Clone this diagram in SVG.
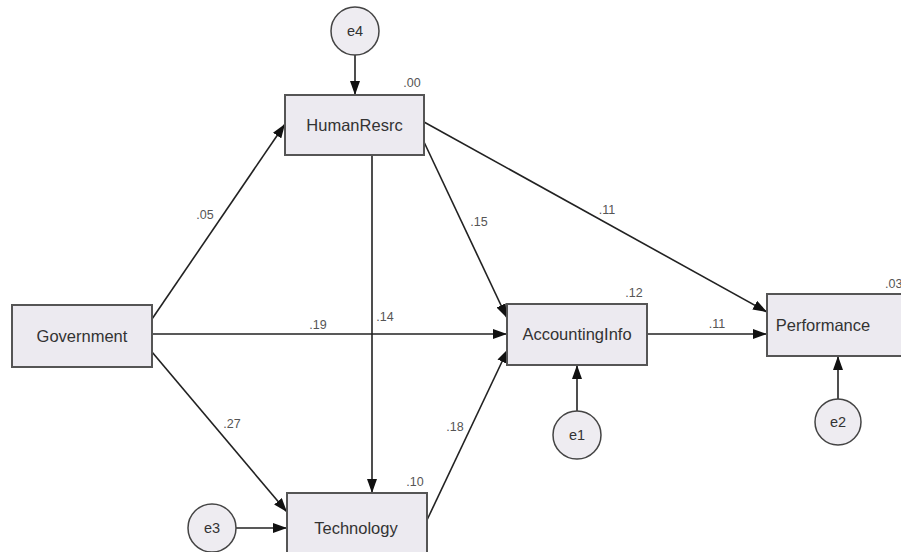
<svg xmlns="http://www.w3.org/2000/svg" width="901" height="552" viewBox="0 0 901 552">
<defs>
<marker id="ah" markerWidth="14" markerHeight="10" refX="14" refY="5" orient="auto" markerUnits="userSpaceOnUse">
<path d="M0,0 L14,5 L0,10 Z" fill="#111"/>
</marker>
<style>
.box{fill:#ECEAF0;stroke:#555;stroke-width:2}
.err{fill:#EEECF1;stroke:#444;stroke-width:1.5}
.lbl{font-family:"Liberation Sans",Arial,sans-serif;font-size:16.5px;fill:#333;text-anchor:middle}
.elbl{font-family:"Liberation Sans",Arial,sans-serif;font-size:14.5px;fill:#333;text-anchor:middle}
.num{font-family:"Liberation Sans",Arial,sans-serif;font-size:12.5px;fill:#555;text-anchor:middle}
.edge{stroke:#222;stroke-width:1.6;fill:none;marker-end:url(#ah)}
</style>
</defs>
<rect width="901" height="552" fill="#fff"/>
<g id="connectors">
<line class="edge" x1="355" y1="55" x2="355" y2="95"/>
<line class="edge" x1="152" y1="319" x2="285" y2="124"/>
<line class="edge" x1="152" y1="334" x2="507" y2="334"/>
<line class="edge" x1="152" y1="352" x2="287" y2="512"/>
<line class="edge" x1="372" y1="155" x2="372" y2="493"/>
<line class="edge" x1="424" y1="142" x2="507" y2="318"/>
<line class="edge" x1="424" y1="122" x2="767" y2="312"/>
<line class="edge" x1="427" y1="520" x2="508" y2="349"/>
<line class="edge" x1="647" y1="334" x2="767" y2="334"/>
<line class="edge" x1="577" y1="411" x2="577" y2="365"/>
<line class="edge" x1="838" y1="399" x2="838" y2="356"/>
<line class="edge" x1="236" y1="528" x2="287" y2="528"/>
</g>
<g id="labels">
<text class="num" x="205" y="219">.05</text>
<text class="num" x="318" y="329">.19</text>
<text class="num" x="385" y="321">.14</text>
<text class="num" x="232" y="428">.27</text>
<text class="num" x="479" y="226">.15</text>
<text class="num" x="607" y="214">.11</text>
<text class="num" x="455" y="431">.18</text>
<text class="num" x="717" y="328">.11</text>
</g>
<g id="e4"><circle class="err" cx="355" cy="31" r="24"/><text class="elbl" x="355" y="36">e4</text></g>
<g id="HumanResrc"><rect class="box" x="285" y="95" width="139" height="60"/><text class="lbl" x="354.5" y="131">HumanResrc</text><text class="num" x="412" y="87">.00</text></g>
<g id="Government"><rect class="box" x="12" y="305" width="140" height="62"/><text class="lbl" x="82" y="342">Government</text></g>
<g id="AccountingInfo"><rect class="box" x="507" y="304" width="140" height="61"/><text class="lbl" x="577" y="340">AccountingInfo</text><text class="num" x="634" y="297">.12</text></g>
<g id="Performance"><rect class="box" x="767" y="294" width="140" height="62"/><text class="lbl" x="823" y="331">Performance</text><text class="num" x="885" y="288" style="text-anchor:start">.03</text></g>
<g id="Technology"><rect class="box" x="287" y="493" width="140" height="70"/><text class="lbl" x="356" y="534">Technology</text><text class="num" x="415" y="486">.10</text></g>
<g id="e1"><circle class="err" cx="577" cy="435" r="24"/><text class="elbl" x="577" y="440">e1</text></g>
<g id="e2"><circle class="err" cx="838" cy="422" r="23"/><text class="elbl" x="838" y="427">e2</text></g>
<g id="e3"><circle class="err" cx="212" cy="528" r="24"/><text class="elbl" x="212" y="533">e3</text></g>
</svg>
